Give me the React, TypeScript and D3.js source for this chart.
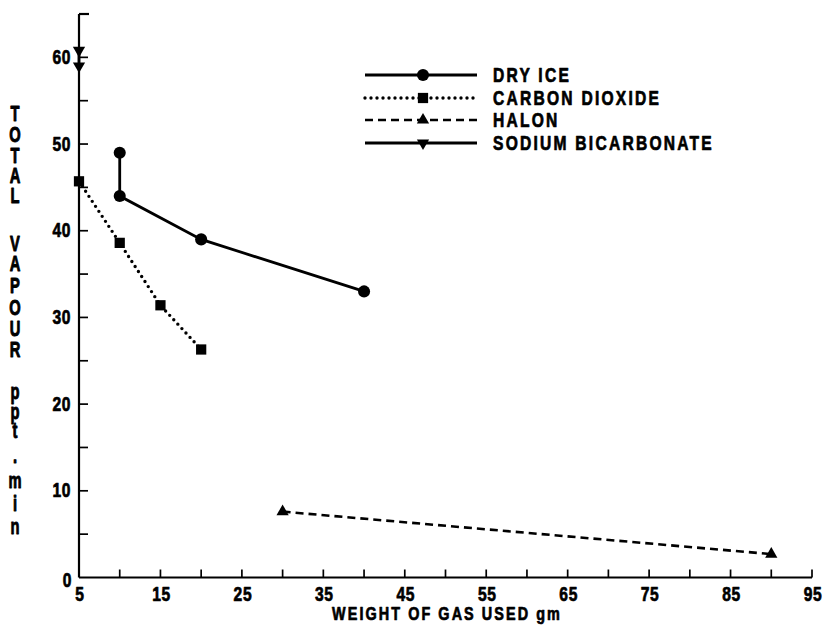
import React from "react";
import * as d3 from "d3";

// Series data: weight of gas used (gm) vs total vapour (ppt.min)
const dryIceX = [10, 10, 20, 40];
const dryIceY = [49, 44, 39, 33];
const co2X = [5, 10, 15, 20];
const co2Y = [45.7, 38.6, 31.4, 26.3];
const halonX = [30, 90];
const halonY = [7.6, 2.7];
const sodiumX = [5, 5];
const sodiumY = [60.8, 59];

const seriesNames = ["DRY ICE", "CARBON DIOXIDE", "HALON", "SODIUM BICARBONATE"];
const xTickValues = [5, 15, 25, 35, 45, 55, 65, 75, 85, 95];
const yTickValues = [0, 10, 20, 30, 40, 50, 60];
const xTitle = "WEIGHT OF GAS USED gm";
const yTitleLetters = [
  "T", "O", "T", "A", "L",
  "V", "A", "P", "O", "U", "R",
  "p", "p", "t", ".", "m", "i", "n",
];

const W = 835;
const H = 629;
const FONT = "'Liberation Sans', Arial, sans-serif";

const x = d3.scaleLinear().domain([5, 95]).range([79, 812]);
const y = d3.scaleLinear().domain([0, 65]).range([577.5, 14]);

type Pt = [number, number];
const zip = (xs: number[], ys: number[]): Pt[] => xs.map((v, i) => [v, ys[i]]);

const line = d3
  .line<Pt>()
  .x((d) => x(d[0]))
  .y((d) => y(d[1]));

const circle = d3.symbol().type(d3.symbolCircle).size(115)();
const square = d3.symbol().type(d3.symbolSquare).size(105)();
const triangle = d3.symbol().type(d3.symbolTriangle).size(65)();

type Series = {
  name: string;
  pts: Pt[];
  dash?: string;
  width: number;
  marker: string;
  rotate?: number;
};

const series: Series[] = [
  { name: seriesNames[0], pts: zip(dryIceX, dryIceY), width: 2.8, marker: circle },
  { name: seriesNames[1], pts: zip(co2X, co2Y), dash: "0 6", width: 3.4, marker: square },
  { name: seriesNames[2], pts: zip(halonX, halonY), dash: "8 5", width: 2.6, marker: triangle },
  { name: seriesNames[3], pts: zip(sodiumX, sodiumY), width: 2.8, marker: triangle, rotate: 180 },
];

const yTitleY = [113, 134, 155, 175, 195, 243, 263, 285, 307, 328, 349, 391, 411, 430, 455, 480, 503, 526];

// Heavy condensed lettering: bold face squeezed horizontally, with a thin outline for weight
function CText(props: {
  x: number;
  y: number;
  size: number;
  sx?: number;
  sy?: number;
  ls?: number;
  anchor?: "start" | "middle" | "end";
  baseline?: string;
  children: React.ReactNode;
}) {
  const { x: tx, y: ty, size, sx = 0.8, sy = 1, ls = 0, anchor = "start", baseline, children } = props;
  return (
    <text
      transform={`translate(${tx},${ty}) scale(${sx},${sy})`}
      fontSize={size}
      letterSpacing={ls}
      textAnchor={anchor}
      dominantBaseline={baseline}
      fill="#000"
      stroke="#000"
      strokeWidth={0.7}
      strokeLinejoin="round"
    >
      {children}
    </text>
  );
}

export default function App() {
  const xMinor = d3.range(5, 96, 5);
  const yMinor = d3.range(0, 66, 5);
  const legendY = [75, 98, 120, 143];
  return (
    <svg
      width={W}
      height={H}
      style={{ position: "absolute", left: 0, top: 0, background: "#fff" }}
      fontFamily={FONT}
      fontWeight="bold"
    >
      <rect width={W} height={H} fill="#fff" />
      {/* axes */}
      <g stroke="#000" fill="none" strokeWidth={2.2}>
        <line x1={x(5)} x2={x(5)} y1={y(0)} y2={y(65)} />
        <line x1={x(5)} x2={x(95)} y1={y(0)} y2={y(0)} />
        <line x1={x(5)} x2={x(5) + 10} y1={y(65)} y2={y(65)} />
        {yMinor.filter((v) => v > 0).map((v) => (
          <line key={"yt" + v} x1={x(5)} x2={x(5) + 9} y1={y(v)} y2={y(v)} strokeWidth={1.7} />
        ))}
        {xMinor.filter((v) => v > 5).map((v) => (
          <line key={"xt" + v} x1={x(v)} x2={x(v)} y1={y(0)} y2={y(0) - 8} strokeWidth={1.7} />
        ))}
      </g>
      {/* tick labels */}
      {yTickValues.map((v) => (
        <CText
          key={"yl" + v}
          x={v === 0 ? 72 : 71}
          y={v === 0 ? y(v) + 3 : y(v)}
          size={19.5}
          sx={0.8}
          ls={0.8}
          anchor="end"
          baseline="central"
        >
          {v}
        </CText>
      ))}
      {xTickValues.map((v) => (
        <CText key={"xl" + v} x={x(v) + 1} y={600.5} size={19.5} sx={0.8} ls={0.8} anchor="middle">
          {v}
        </CText>
      ))}
      {/* axis titles */}
      <CText x={447} y={620} size={18} sx={0.8} ls={2.6} anchor="middle">
        {xTitle}
      </CText>
      {yTitleLetters.map((c, i) => (
        <CText key={"ytl" + i} x={15} y={yTitleY[i]} size={16} sx={0.92} sy={1.38} anchor="middle" baseline="central">
          {c}
        </CText>
      ))}
      {/* series */}
      {series.map((s) => (
        <g key={s.name}>
          <path
            d={line(s.pts) || ""}
            fill="none"
            stroke="#000"
            strokeWidth={s.width}
            strokeDasharray={s.dash}
            strokeLinecap={s.dash === "0 6" ? "round" : "butt"}
          />
          {s.pts.map((p, i) => (
            <path
              key={i}
              d={s.marker}
              transform={`translate(${x(p[0])},${y(p[1])}) rotate(${s.rotate || 0})`}
              fill="#000"
            />
          ))}
        </g>
      ))}
      {/* legend */}
      {series.map((s, i) => (
        <g key={"lg" + s.name}>
          <line
            x1={365}
            x2={477}
            y1={legendY[i]}
            y2={legendY[i]}
            stroke="#000"
            strokeWidth={s.width}
            strokeDasharray={s.dash}
            strokeLinecap={s.dash === "0 6" ? "round" : "butt"}
          />
          <path d={s.marker} transform={`translate(423,${legendY[i]}) rotate(${s.rotate || 0})`} fill="#000" />
          <CText x={493} y={legendY[i]} size={19.5} sx={0.8} ls={2.8} baseline="central">
            {s.name}
          </CText>
        </g>
      ))}
    </svg>
  );
}
